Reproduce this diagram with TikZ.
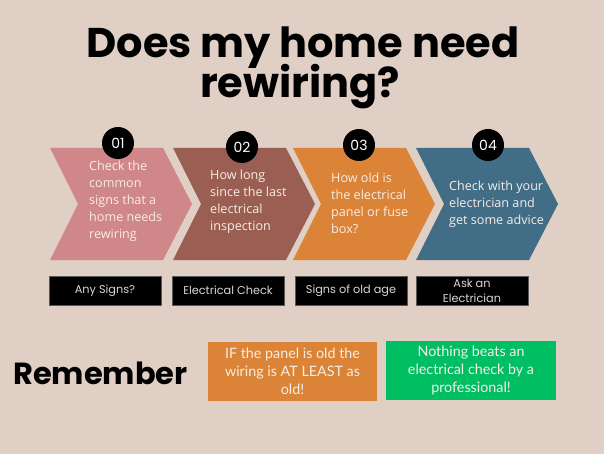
\documentclass[tikz,border=0pt]{standalone}
\usepackage{fontspec}
\setmainfont{Open Sans}
\newfontfamily\titlefont{Poppins}
\newfontfamily\boxfont{Poppins}
\newfontfamily\notefont{Lato}
\definecolor{bg}{HTML}{DFCFC5}
\definecolor{cpink}{HTML}{D0878A}
\definecolor{cbrown}{HTML}{9A5F52}
\definecolor{corange}{HTML}{DB8438}
\definecolor{cteal}{HTML}{416E86}
\definecolor{cgreen}{HTML}{00BF63}
\definecolor{ltext}{HTML}{F7EDE6}
\definecolor{gtext}{HTML}{DDD5D0}
\tikzset{
  chevtext/.style={anchor=west, align=left, inner sep=0pt, text=ltext,
    font=\fontsize{12.6}{17}\selectfont},
  numcirc/.style={circle, fill=black, minimum size=32pt, inner sep=0pt,
    text=white, font=\titlefont\fontsize{14}{14}\selectfont},
  labbox/.style={fill=black, draw=black!65, line width=0.6pt, minimum width=112pt,
    minimum height=29pt, inner sep=0pt, align=center, text=gtext,
    font=\boxfont\fontsize{11.3}{15}\selectfont},
  notebox/.style={minimum height=59pt, inner sep=0pt, align=center, text=ltext,
    font=\notefont\fontsize{14.3}{18}\selectfont},
  titletext/.style={anchor=base, inner sep=0pt, font=\titlefont\bfseries\fontsize{41.5}{41.5}\selectfont}
}
\newcommand{\chev}[2]{%
  \fill[#2] (#1,148) -- (#1+113,148) -- (#1+142,204) -- (#1+113,260) -- (#1,260) -- (#1+28,204) -- cycle;}
\begin{document}
\begin{tikzpicture}[x=1pt,y=-1pt]
\fill[bg] (0,0) rectangle (604,454);
\useasboundingbox (0,0) rectangle (604,454);

\node[titletext] (title1) at (303,58) {Does my home need};
\node[titletext] (title2) at (300,98) {rewiring?};

\chev{50}{cpink}
\chev{173}{cbrown}
\chev{293}{corange}
\chev{416}{cteal}

\node[numcirc] (n1) at (118,143) {01};
\node[numcirc] (n2) at (242,147) {02};
\node[numcirc] (n3) at (359,145) {03};
\node[numcirc] (n4) at (488,145) {04};

\node[chevtext] (t1) at (89,201.5) {Check the\\common\\signs that a\\home needs\\rewiring};
\node[chevtext] (t2) at (210,201.5) {How long\\since the last\\electrical\\inspection};
\node[chevtext] (t3) at (331,203.5) {How old is\\the electrical\\panel or fuse\\box?};
\node[chevtext] (t4) at (449,204.5) {Check with your\\electrician and\\get some advice};

\node[labbox] (b1) at (105,290.5) {Any Signs?};
\node[labbox] (b2) at (228,290.5) {Electrical Check};
\node[labbox] (b3) at (351,290.5) {Signs of old age};
\node[labbox] (b4) at (472,290.5) {Ask an\\Electrician};

\node[anchor=west, inner sep=0pt, font=\titlefont\bfseries\fontsize{30.5}{30.5}\selectfont]
  (rem) at (13,373) {Remember};

\node[notebox, fill=corange, minimum width=169pt] (o1) at (292.5,371.5)
  {IF the panel is old the\\wiring is AT LEAST as\\old!};
\node[notebox, fill=cgreen, minimum width=170pt] (g1) at (471,370.5)
  {Nothing beats an\\electrical check by a\\professional!};
\end{tikzpicture}
\end{document}
